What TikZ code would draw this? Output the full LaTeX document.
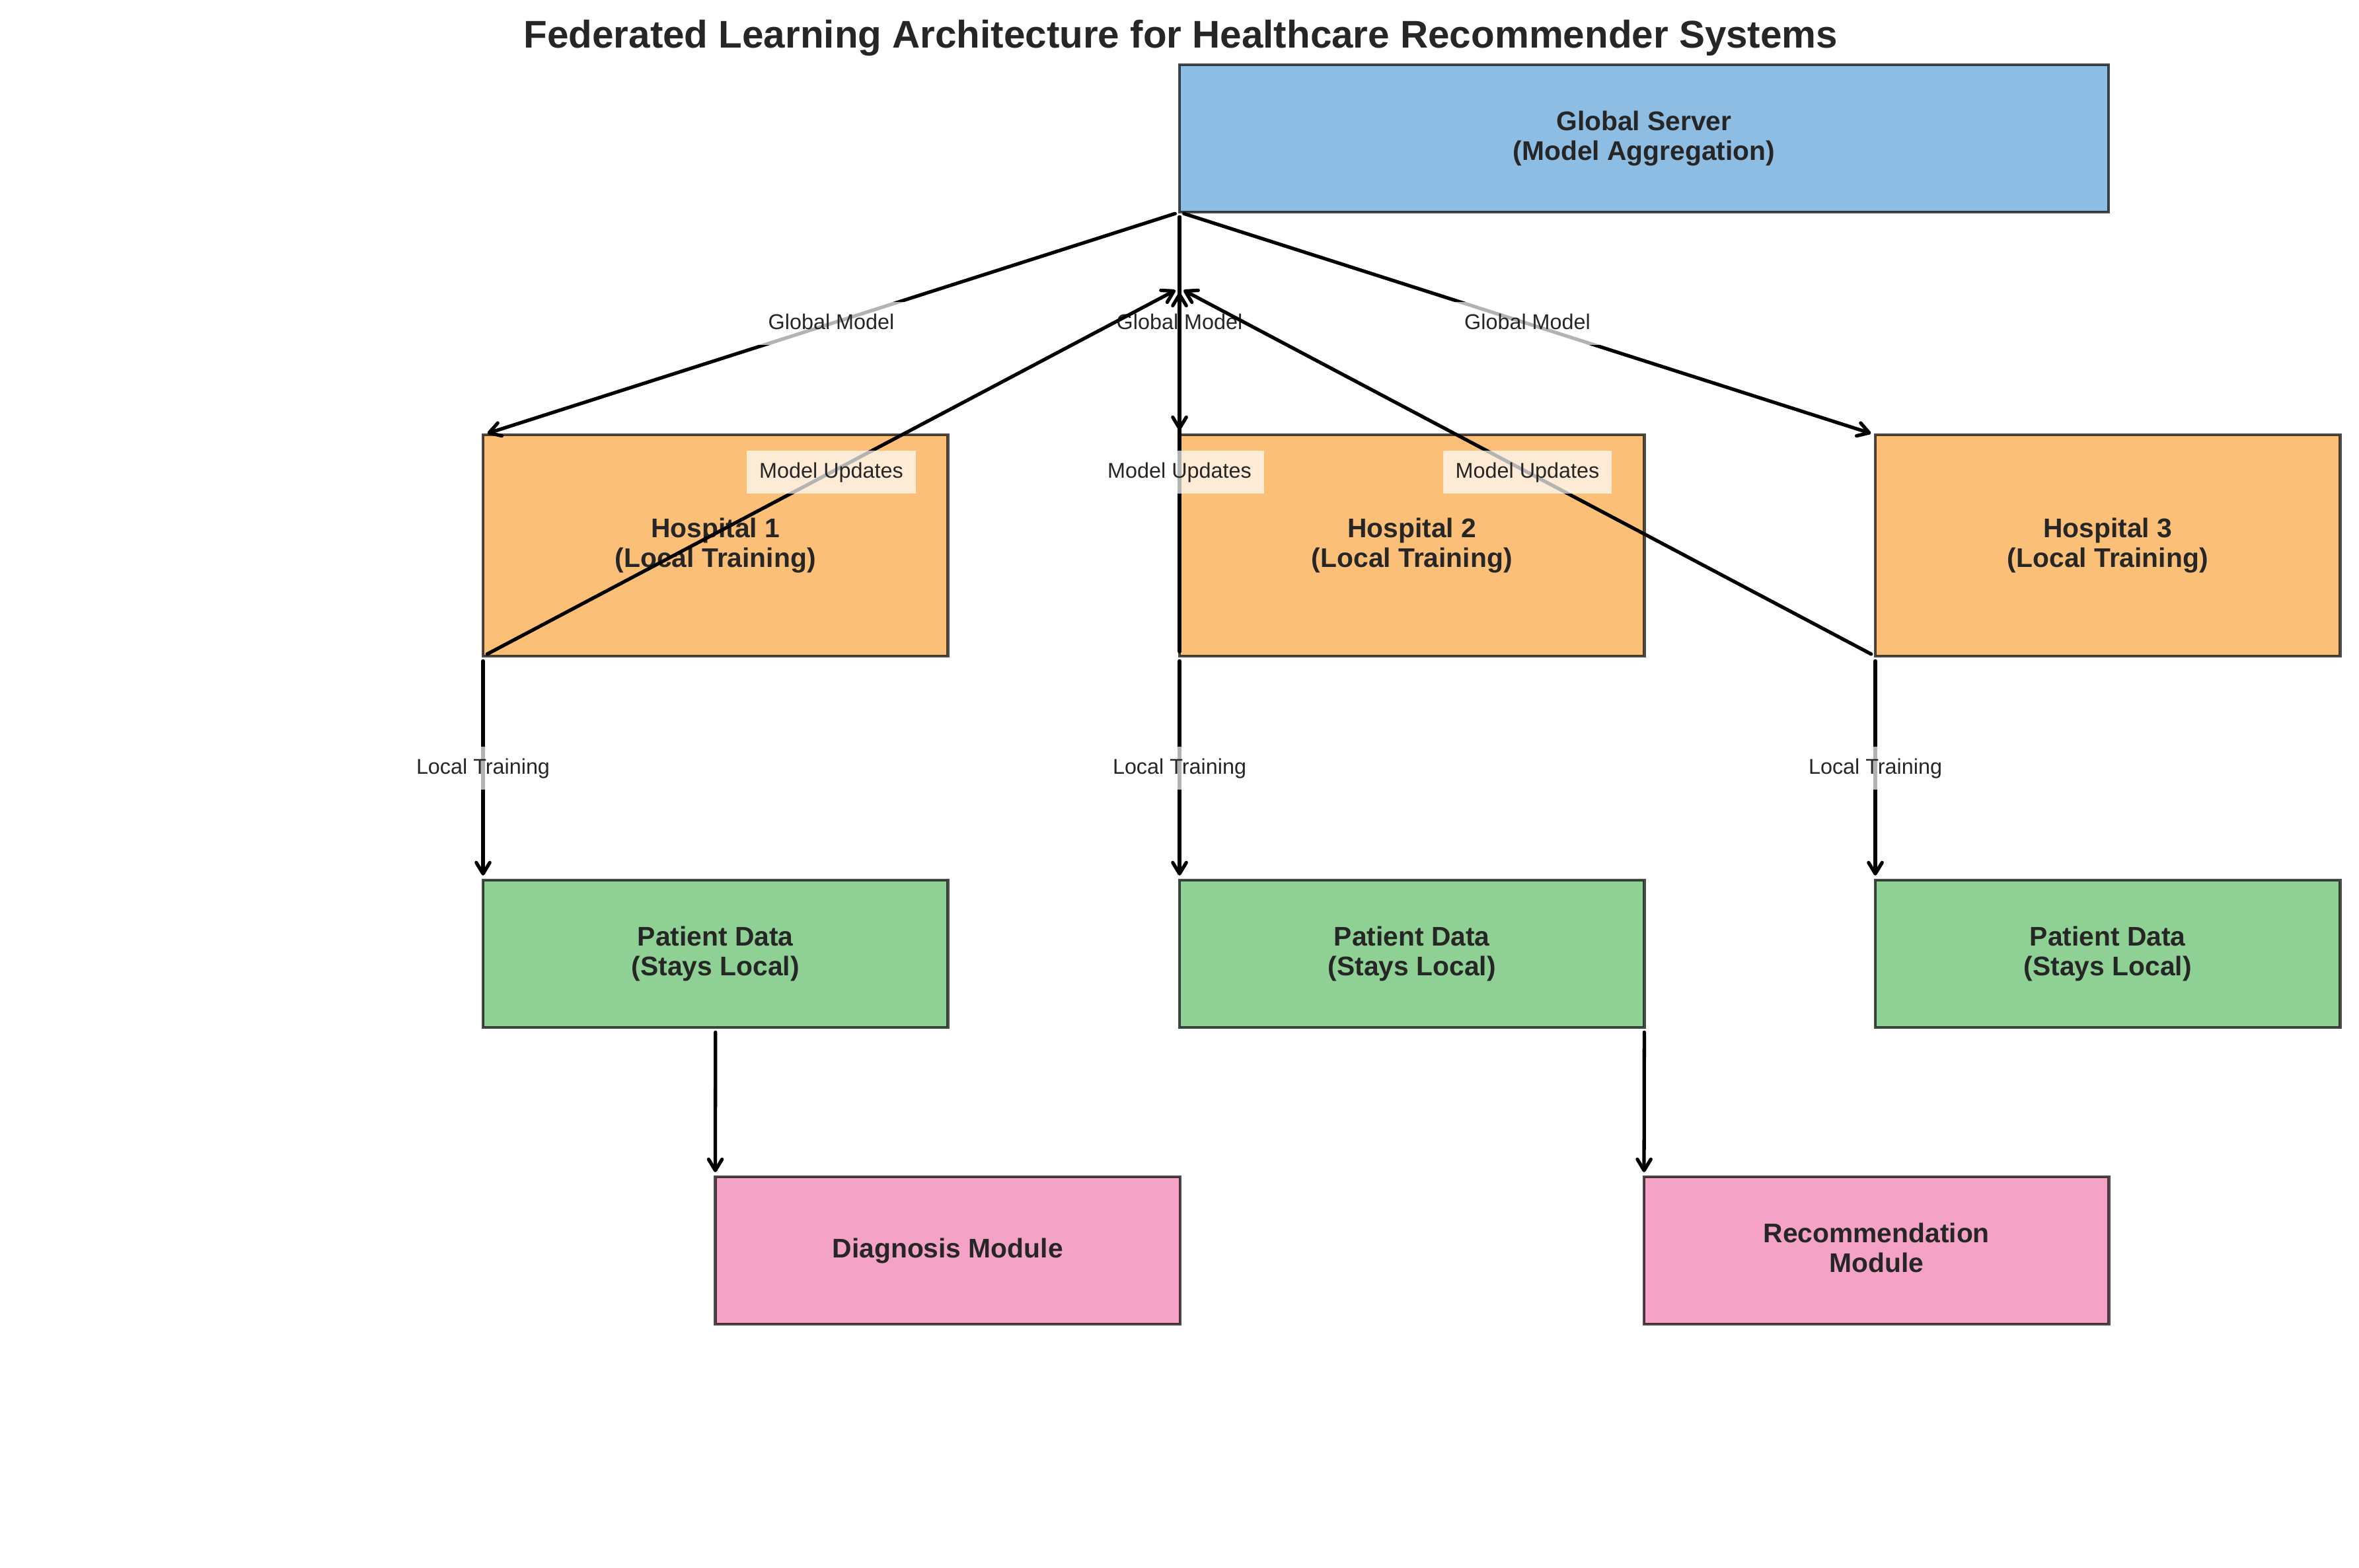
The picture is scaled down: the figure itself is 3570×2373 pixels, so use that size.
\documentclass[tikz,border=0pt]{standalone}
\usepackage{fontspec}
\setmainfont{Liberation Sans}
\usetikzlibrary{arrows.meta}
\definecolor{srvblue}{HTML}{8DBDE3}
\definecolor{hosporange}{HTML}{FBBF77}
\definecolor{patgreen}{HTML}{8FD094}
\definecolor{modpink}{HTML}{F4A3C7}
\definecolor{txtgray}{HTML}{262626}
\newcommand{\lnstrut}{\vphantom{(}}
\begin{document}
\begin{tikzpicture}[x=0.01cm,y=-0.01cm,
  box/.style={draw=black, draw opacity=0.7, line width=1.2pt, inner sep=0pt, outer sep=0pt,
    align=center, text=txtgray, font=\fontsize{11.6}{13}\selectfont\bfseries,
    minimum width=7.03cm, anchor=north west},
  flow/.style={draw=black, line width=1.5pt, line cap=round,
    -{Straight Barb[length=4.8pt,width=5.8pt,line cap=round,line join=round]},
    shorten >=2pt, shorten <=2pt},
  lbl/.style={fill=white, fill opacity=0.7, text opacity=1, text=txtgray,
    font=\fontsize{9.2}{11}\selectfont, inner xsep=0.19cm, inner ysep=0.17cm,
    text height=0.238cm, text depth=0.068cm}
]
\useasboundingbox (0,0) rectangle (3570,2373);

% title
\node[anchor=base, text=txtgray, font=\fontsize{16.6}{20}\selectfont\bfseries, inner sep=0pt]
  (title) at (1787,73) {Federated Learning Architecture for Healthcare Recommender Systems};

% boxes
\node[box, fill=srvblue, minimum width=14.05cm, minimum height=2.23cm] (srv) at (1785,98)
  {\lnstrut Global Server\\\lnstrut(Model Aggregation)};
\node[box, fill=hosporange, minimum height=3.35cm] (h1) at (731,658)
  {\lnstrut Hospital 1\\\lnstrut(Local Training)};
\node[box, fill=hosporange, minimum height=3.35cm] (h2) at (1785,658)
  {\lnstrut Hospital 2\\\lnstrut(Local Training)};
\node[box, fill=hosporange, minimum height=3.35cm] (h3) at (2838,658)
  {\lnstrut Hospital 3\\\lnstrut(Local Training)};
\node[box, fill=patgreen, minimum height=2.23cm] (p1) at (731,1332)
  {\lnstrut Patient Data\\\lnstrut(Stays Local)};
\node[box, fill=patgreen, minimum height=2.23cm] (p2) at (1785,1332)
  {\lnstrut Patient Data\\\lnstrut(Stays Local)};
\node[box, fill=patgreen, minimum height=2.23cm] (p3) at (2838,1332)
  {\lnstrut Patient Data\\\lnstrut(Stays Local)};
\node[box, fill=modpink, minimum height=2.23cm] (diag) at (1082.5,1781)
  {\lnstrut Diagnosis Module};
\node[box, fill=modpink, minimum height=2.23cm] (rec) at (2488,1781)
  {\lnstrut Recommendation\\\lnstrut Module};

\coordinate (mu) at (1785,436);

% global model distribution
\draw[flow] (srv.south west) -- node[lbl] {Global Model} (h1.north west);
\draw[flow] (srv.south west) -- node[lbl] {Global Model} (h2.north west);
\draw[flow] (srv.south west) -- node[lbl] {Global Model} (h3.north west);

% model updates
\draw[flow] (h1.south west) -- node[lbl] {Model Updates} (mu);
\draw[flow] (h2.south west) -- node[lbl] {Model Updates} (mu);
\draw[flow] (h3.south west) -- node[lbl] {Model Updates} (mu);

% local training
\draw[flow] (h1.south west) -- node[lbl] {Local Training} (p1.north west);
\draw[flow] (h2.south west) -- node[lbl] {Local Training} (p2.north west);
\draw[flow] (h3.south west) -- node[lbl] {Local Training} (p3.north west);

% modules
\draw[flow] (p1.south) -- (diag.north west);
\draw[flow] (p2.south east) -- (rec.north west);
\end{tikzpicture}
\end{document}
